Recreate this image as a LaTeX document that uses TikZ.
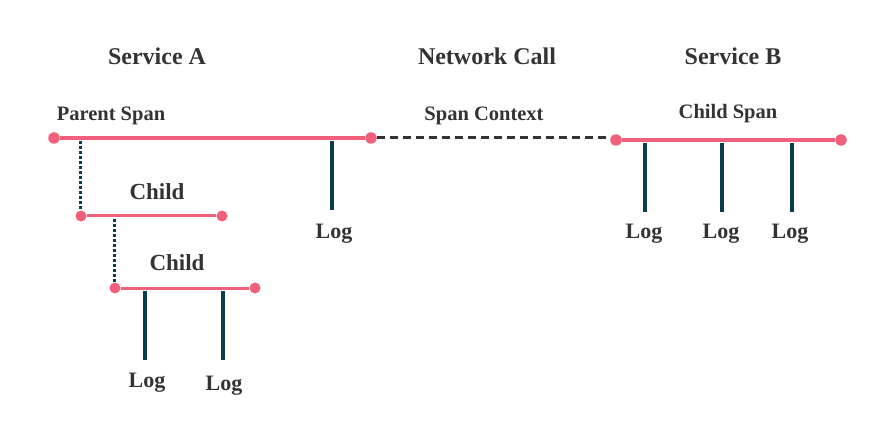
\documentclass[tikz,border=0pt]{standalone}
\usepackage{fontspec}
\setmainfont{Liberation Serif}[BoldFont={Liberation Serif Bold}]
\usepackage{xcolor}
\definecolor{spanpink}{HTML}{F0607A}
\definecolor{logteal}{HTML}{0B3D4D}
\definecolor{txtgray}{HTML}{333333}

\begin{document}
\begin{tikzpicture}[x=1pt, y=-1pt,
        dot/.style={circle, fill=spanpink, inner sep=0pt, minimum size=#1},
        dot/.default=11.5pt,
        span/.style={spanpink, line width=3.5pt},
        childspan/.style={spanpink, line width=3pt},
        logline/.style={logteal, line width=3.2pt},
        link/.style={logteal, line width=3pt, dash pattern=on 3pt off 2pt},
        title/.style={txtgray, font=\rmfamily\bfseries\fontsize{24}{28}\selectfont},
        label/.style={txtgray, font=\rmfamily\bfseries\fontsize{20.5}{24}\selectfont},
        childlabel/.style={txtgray, font=\rmfamily\bfseries\fontsize{23}{27}\selectfont},
        loglabel/.style={txtgray, inner sep=0pt, font=\rmfamily\bfseries\fontsize{22}{26}\selectfont}]
        \useasboundingbox (0,0) rectangle (871,425);
        % headings
        \node[title] (svcA) at (157,56) {Service A};
        \node[title] (net) at (487,56) {Network Call};
        \node[title] (svcB) at (733,56) {Service B};
        % service A
        \node[label] (plabel) at (111,116) {Parent Span};
        \node[dot] (p1) at (54,138) {};
        \node[dot] (p2) at (371,138) {};
        \draw[span] (p1) -- (p2);
        \coordinate (pl) at (332,141);
        \coordinate (plend) at (332,210);
        \node[loglabel] (log1) at (334,234) {Log};
        \draw[logline] (pl) -- (plend);
        % first child
        \node[childlabel] (c1label) at (157,192) {Child};
        \node[dot=11pt] (c1a) at (81,216) {};
        \node[dot=11pt] (c1b) at (222,216) {};
        \draw[childspan] (c1a) -- (c1b);
        \coordinate (pc1) at (80,141);
        \draw[link] (pc1) -- (pc1 |- c1a.north);
        % second child
        \node[childlabel] (c2label) at (177,263) {Child};
        \node[dot=11pt] (c2a) at (115,288) {};
        \node[dot=11pt] (c2b) at (255,288) {};
        \draw[childspan] (c2a) -- (c2b);
        \coordinate (c1c2) at (114,219);
        \draw[link] (c1c2) -- (c1c2 |- c2a.north);
        \foreach \x/\lx/\ly/\n in {145/147/383/2, 223/224/386/3} {
            \coordinate (cl\n) at (\x,291);
            \coordinate (clend\n) at (\x,360);
            \node[loglabel] (log\n) at (\lx,\ly) {Log};
            \draw[logline] (cl\n) -- (clend\n);
        }
        % network call
        \node[label] (ctx) at (484,116) {Span Context};
        \node[dot] (b1) at (616,140) {};
        \draw[txtgray, line width=3pt, dash pattern=on 8pt off 5pt] (p2) -- (p2 -| b1.west);
        % service B
        \node[label] (blabel) at (728,114) {Child Span};
        \node[dot] (b2) at (841,140) {};
        \draw[span] (b1) -- (b2);
        \foreach \x/\lx/\n in {645/644/4, 722/721/5, 792/790/6} {
            \coordinate (bl\n) at (\x,143);
            \coordinate (blend\n) at (\x,212);
            \node[loglabel] (log\n) at (\lx,234) {Log};
            \draw[logline] (bl\n) -- (blend\n);
        }
    \end{tikzpicture}
\end{document}
